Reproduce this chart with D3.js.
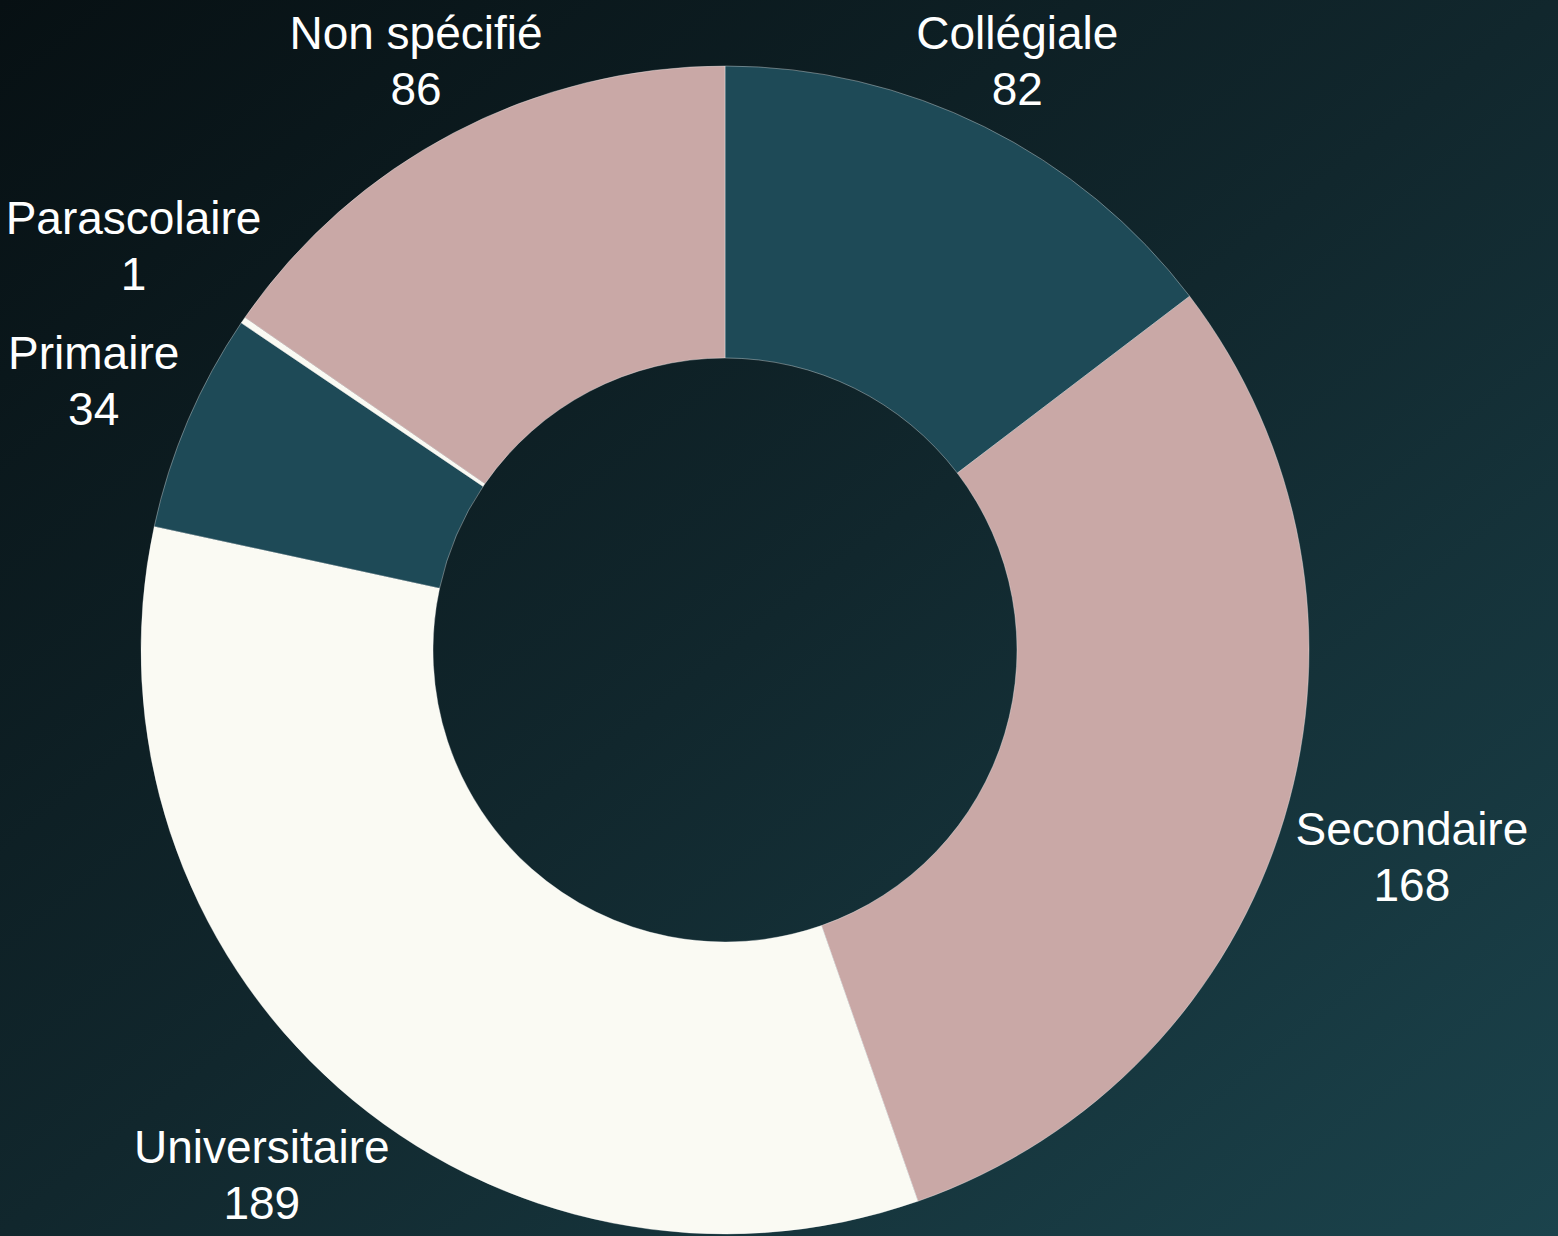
<!DOCTYPE html>
<html>
<head>
<meta charset="utf-8">
<script src="https://cdn.jsdelivr.net/npm/d3@7"></script>
<style>
html,body{margin:0;padding:0;overflow:hidden;}
svg{display:block;}
</style>
</head>
<body>
<svg id="chart" width="1558" height="1236"></svg>
<script>
const categories = ["Collégiale", "Secondaire", "Universitaire", "Primaire", "Parascolaire", "Non spécifié"];
const values = [82, 168, 189, 34, 1, 86];
const colors = ["#1e4a57", "#c9a8a6", "#fafaf3", "#1e4a57", "#fafaf3", "#c9a8a6"];

const W = 1558, H = 1236;
const cx = 725, cy = 650;
const outerR = 584, innerR = 292;

const svg = d3.select("#chart");
const defs = svg.append("defs");
const grad = defs.append("linearGradient").attr("id", "bg")
  .attr("x1", "0").attr("y1", "0").attr("x2", "1").attr("y2", "1");
grad.append("stop").attr("offset", "0%").attr("stop-color", "#071013");
grad.append("stop").attr("offset", "50%").attr("stop-color", "#11272d");
grad.append("stop").attr("offset", "100%").attr("stop-color", "#1b434c");
svg.append("rect").attr("width", W).attr("height", H).attr("fill", "url(#bg)");

const data = categories.map((c, i) => ({ cat: c, value: values[i], color: colors[i] }));
const pie = d3.pie().value(d => d.value).sort(null);
const arcs = pie(data);
const arc = d3.arc().innerRadius(innerR).outerRadius(outerR);

const g = svg.append("g").attr("transform", `translate(${cx},${cy})`);
g.selectAll("path").data(arcs).join("path")
  .attr("d", arc)
  .attr("fill", d => d.data.color)
  .attr("stroke", "rgba(255,255,255,0.35)")
  .attr("stroke-width", 1);

const fs = 46, lineGap = 56, capHalf = 16.5;
const minCenterY = 60 - cy; // keep label box inside the top edge
const labels = g.selectAll("g.lbl").data(arcs).join("g").attr("class", "lbl");
labels.each(function(d) {
  const sel = d3.select(this);
  const t1 = sel.append("text").text(d.data.cat);
  const t2 = sel.append("text").text(d.data.value);
  sel.selectAll("text")
    .attr("text-anchor", "middle")
    .attr("fill", "#ffffff")
    .attr("font-family", "'Liberation Sans', Arial, sans-serif")
    .attr("font-size", fs);
  const w = Math.max(t1.node().getComputedTextLength(), t2.node().getComputedTextLength());
  const a = (d.startAngle + d.endAngle) / 2;
  const s = Math.sin(a), c = Math.cos(a);
  let R = 600 + (w / 2) * Math.abs(s) + 20 * Math.abs(c);
  if (c > 0 && -R * c < minCenterY) R = -minCenterY / c;
  const x = R * s, y = -R * c;
  t1.attr("x", x).attr("y", y - lineGap / 2 + capHalf);
  t2.attr("x", x).attr("y", y + lineGap / 2 + capHalf);
});
</script>
</body>
</html>
